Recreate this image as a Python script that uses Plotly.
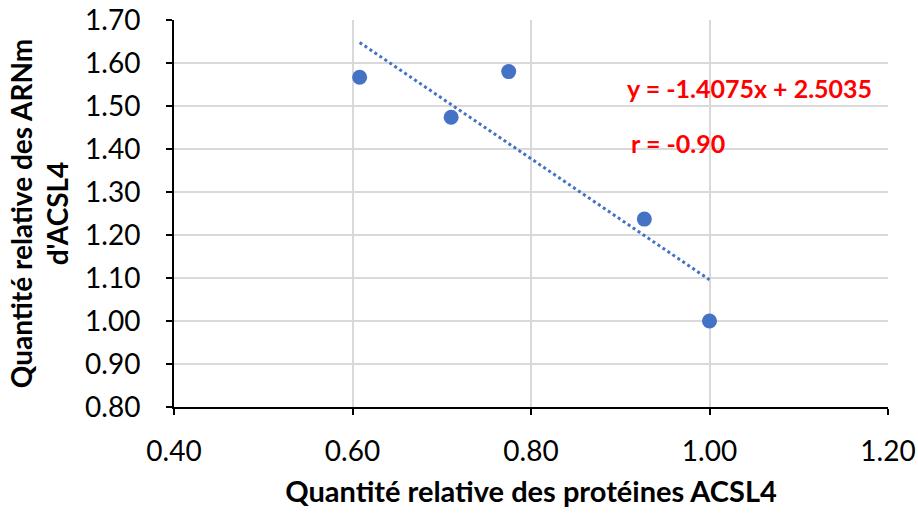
import plotly.graph_objects as go

# Data
proteine = [0.608, 0.7105, 0.775, 0.927, 1.0]
arnm = [1.567, 1.474, 1.580, 1.237, 1.0]
slope = -1.4075
intercept = 2.5035
r_value = -0.90

x_ticks = [0.40, 0.60, 0.80, 1.00, 1.20]
y_ticks = [0.80, 0.90, 1.00, 1.10, 1.20, 1.30, 1.40, 1.50, 1.60, 1.70]

blue = "#4472C4"
font_family = "Lato, 'Open Sans', sans-serif"

x_min, x_max = min(proteine), max(proteine)
trend_x = [x_min, x_max]
trend_y = [slope * v + intercept for v in trend_x]

fig = go.Figure()
fig.add_trace(go.Scatter(
    x=trend_x, y=trend_y, mode="lines",
    line=dict(color=blue, width=3, dash="dot"),
    showlegend=False, hoverinfo="skip"))
fig.add_trace(go.Scatter(
    x=proteine, y=arnm, mode="markers",
    marker=dict(color=blue, size=15),
    showlegend=False))

fig.add_annotation(
    x=0.9056, y=1.542, xref="x", yref="y", xanchor="left", yanchor="middle",
    text="<b>y = %.4fx + %.4f</b>" % (slope, intercept), showarrow=False,
    font=dict(family=font_family, size=25, color="#FF0000"))
fig.add_annotation(
    x=0.910, y=1.414, xref="x", yref="y", xanchor="left", yanchor="middle",
    text="<b>r = %.2f</b>" % r_value, showarrow=False,
    font=dict(family=font_family, size=25, color="#FF0000"))

fig.update_layout(
    width=918, height=513,
    margin=dict(l=174, r=30, t=20, b=106),
    paper_bgcolor="white", plot_bgcolor="white",
    font=dict(family=font_family, color="black"),
)
fig.update_xaxes(
    range=[0.4, 1.2], tickvals=x_ticks, ticktext=["%.2f" % v for v in x_ticks],
    showgrid=True, gridcolor="#d9d9d9", gridwidth=1.5,
    showline=True, linecolor="black", linewidth=2,
    ticks="outside", ticklen=6, tickwidth=2, tickcolor="black",
    tickfont=dict(size=28), ticklabelstandoff=12, zeroline=False,
    automargin=False,
    title=dict(text="<b>Quantité relative des protéines ACSL4</b>",
               font=dict(size=29), standoff=16),
)
fig.update_yaxes(
    range=[0.8, 1.7], tickvals=y_ticks, ticktext=["%.2f" % v for v in y_ticks],
    showgrid=True, gridcolor="#d9d9d9", gridwidth=1.5,
    showline=True, linecolor="black", linewidth=2,
    ticks="outside", ticklen=6, tickwidth=2, tickcolor="black",
    tickfont=dict(size=28), ticklabelstandoff=20, zeroline=False,
    automargin=False,
    title=dict(text="<b>Quantité relative des ARNm<br>d'ACSL4</b>",
               font=dict(size=28), standoff=8),
)

fig.write_html("out.html")
